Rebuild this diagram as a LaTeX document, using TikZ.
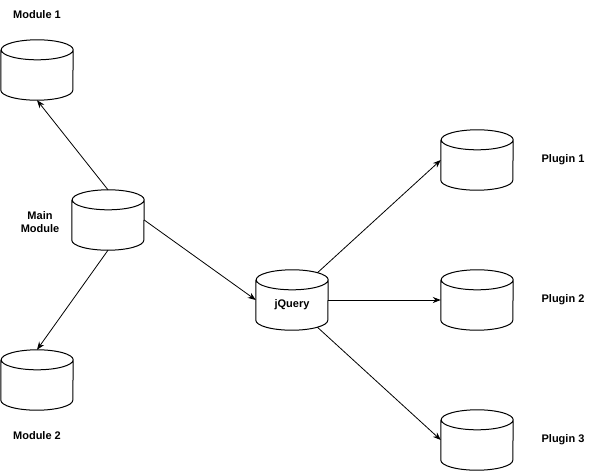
\documentclass[tikz,border=0pt]{standalone}
\usepackage{fontspec}
\setmainfont{Liberation Sans}
\usetikzlibrary{arrows.meta}
\tikzset{
  db/.style={rectangle,draw=none,minimum width=72pt,minimum height=60pt,inner sep=0pt},
  dbline/.style={draw=black,line width=1pt,fill=white},
  lbl/.style={font=\bfseries\fontsize{11}{13}\selectfont,align=center},
  link/.style={draw=black,line width=0.8pt,-{Stealth[length=8pt,width=6pt]}},
}
% outline of a cylinder on a named node
\newcommand{\dbcyl}[1]{%
  \draw[dbline] ([yshift=-10pt]#1.north west) -- ([yshift=10pt]#1.south west)
    arc[start angle=180,end angle=360,x radius=36pt,y radius=10pt]
    -- ([yshift=-10pt]#1.north east)
    arc[start angle=0,end angle=180,x radius=36pt,y radius=10pt]
    arc[start angle=180,end angle=360,x radius=36pt,y radius=10pt];}

\begin{document}
\begin{tikzpicture}[x=1pt,y=-1pt]
\useasboundingbox (0,0) rectangle (600,474);
\coordinate (c1) at (37,70);
\coordinate (c0) at (108,220);
\coordinate (c2) at (37,380);
\coordinate (cj) at (292,300);
\coordinate (cp1) at (477,160);
\coordinate (cp2) at (477,300);
\coordinate (cp3) at (477,440);
\node[db] (mod1) at (c1) {};
\node[db] (main) at (c0) {};
\node[db] (mod2) at (c2) {};
\node[db] (jq) at (cj) {};
\node[db] (plug1) at (cp1) {};
\node[db] (plug2) at (cp2) {};
\node[db] (plug3) at (cp3) {};
\foreach \n in {mod1,main,mod2,jq,plug1,plug2,plug3}
  \dbcyl{\n};
\node[lbl,anchor=base] (ljq) at (292,307) {jQuery};
\node[lbl] (lmod1) at (37,15) {Module 1};
\node[lbl] (lmain) at (40,222) {Main\\Module};
\node[lbl] (lmod2) at (37,436) {Module 2};
\node[lbl] (lplug1) at (563,160) {Plugin 1};
\node[lbl] (lplug2) at (563,300) {Plugin 2};
\node[lbl] (lplug3) at (563,440) {Plugin 3};
% exit points on the ellipses of jQuery
\path (jq.north) ++(0,10) ++(45:36pt and 10pt) coordinate (jqtop);
\path (jq.south) ++(0,-10) ++(-45:36pt and 10pt) coordinate (jqbot);
\draw[link] (main.north) -- (mod1.south);
\draw[link] (main.south) -- (mod2.north);
\draw[link] (main.east) -- (jq.west);
\draw[link] (jqtop) -- (plug1.west);
\draw[link] (jq.east) -- (plug2.west);
\draw[link] (jqbot) -- (plug3.west);
\end{tikzpicture}
\end{document}
